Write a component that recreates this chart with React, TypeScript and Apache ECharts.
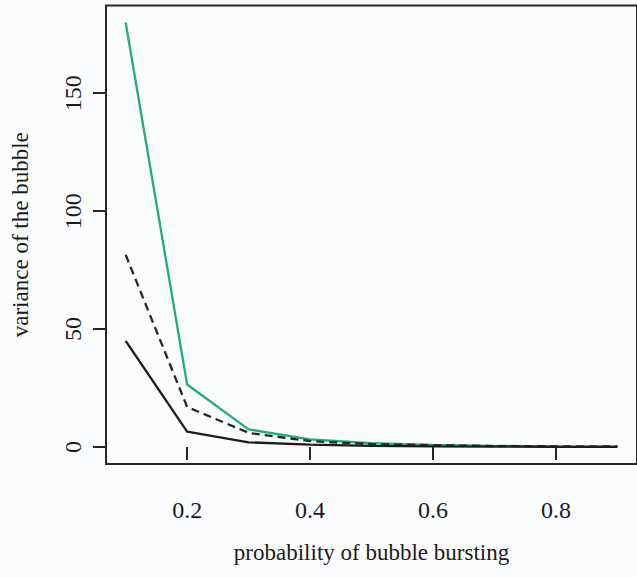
import React, { useEffect, useRef } from "react";
import * as echarts from "echarts";

const probabilities = [0.1, 0.2, 0.3, 0.4, 0.5, 0.6, 0.7, 0.8, 0.9];
const greenSeries = [180, 26.5, 7.5, 3.2, 1.6, 0.9, 0.5, 0.3, 0.2];
const dashedSeries = [81.5, 17, 6, 2.5, 1.2, 0.8, 0.4, 0.3, 0.3];
const solidSeries = [45, 6.5, 2, 1, 0.5, 0.3, 0.2, 0.1, 0.1];
const xTicks = [0.2, 0.4, 0.6, 0.8];
const yTicks = [0, 50, 100, 150];

const FONT = "'Liberation Serif', 'DejaVu Serif', serif";
const INK = "#1a1a1a";

const pairs = (ys: number[]) => probabilities.map((x, i) => [x, ys[i]]);

export default function App() {
  const ref = useRef<HTMLDivElement>(null);
  useEffect(() => {
    if (!ref.current) return;
    const chart = echarts.init(ref.current, null, { renderer: "svg" });
    chart.setOption({
      animation: false,
      backgroundColor: "#fbfcfd",
      grid: {
        left: 106,
        top: 5.5,
        bottom: 113,
        right: -8,
        show: true,
        borderColor: "#262626",
        borderWidth: 2,
        backgroundColor: "transparent",
      },
      xAxis: {
        type: "value",
        min: 0.068,
        max: 0.932,
        splitLine: { show: false },
        axisLine: { show: false },
        axisTick: {
          show: true,
          inside: false,
          length: 13,
          customValues: xTicks,
          lineStyle: { color: "#262626", width: 2 },
        },
        axisLabel: {
          customValues: xTicks,
          margin: 34,
          fontFamily: FONT,
          fontSize: 24,
          color: INK,
          formatter: (v: number) => v.toFixed(1),
        },
        name: "probability of bubble bursting",
        nameLocation: "middle",
        nameGap: 77,
        nameTextStyle: { fontFamily: FONT, fontSize: 23, color: INK },
      },
      yAxis: {
        type: "value",
        min: -7.2,
        max: 187.2,
        splitLine: { show: false },
        axisLine: { show: false },
        axisTick: {
          show: true,
          inside: false,
          length: 13,
          customValues: yTicks,
          lineStyle: { color: "#262626", width: 2 },
        },
        axisLabel: {
          customValues: yTicks,
          rotate: 90,
          margin: 21,
          fontFamily: FONT,
          fontSize: 24,
          color: INK,
        },
        name: "variance of the bubble",
        nameLocation: "middle",
        nameRotate: 90,
        nameGap: 74,
        nameTextStyle: { fontFamily: FONT, fontSize: 23, color: INK },
      },
      series: [
        {
          type: "line",
          data: pairs(greenSeries),
          symbol: "none",
          lineStyle: { color: "#1fae78", width: 2.3 },
        },
        {
          type: "line",
          data: pairs(dashedSeries),
          symbol: "none",
          lineStyle: { color: "#262626", width: 2.3, type: [8, 5] },
        },
        {
          type: "line",
          data: pairs(solidSeries),
          symbol: "none",
          lineStyle: { color: "#1c1c1c", width: 2.3 },
        },
      ],
    });
    return () => chart.dispose();
  }, []);
  return (
    <div
      ref={ref}
      style={{ position: "absolute", left: 0, top: 0, width: 637, height: 577 }}
    />
  );
}
